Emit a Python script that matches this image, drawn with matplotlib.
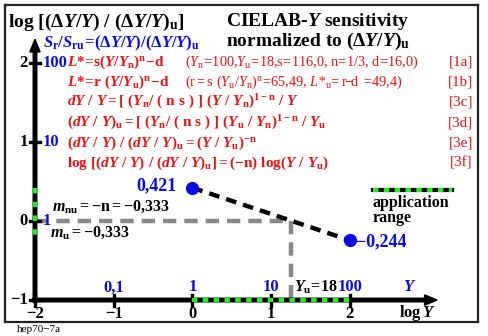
import numpy as np
import matplotlib
matplotlib.use("Agg")
import matplotlib.pyplot as plt

# fonts: bold serif everywhere, mathtext mapped onto Liberation Serif
plt.rcParams['font.family'] = 'Liberation Serif'
plt.rcParams['font.weight'] = 'bold'
plt.rcParams['mathtext.fontset'] = 'custom'
plt.rcParams['mathtext.rm'] = 'Liberation Serif:bold'
plt.rcParams['mathtext.it'] = 'Liberation Serif:italic:bold'
plt.rcParams['mathtext.bf'] = 'Liberation Serif:bold'
plt.rcParams['mathtext.sf'] = 'Liberation Serif:regular'
plt.rcParams['mathtext.tt'] = 'Liberation Serif:italic:regular'

# data
Yu = 18
logY_end = [0, 2]
logS_end = [0.421, -0.244]
end_labels = ['0,421', '\u22120,244']
x_ticks = [-2, -1, 0, 1, 2]
x_tick_labels = ['\u22122', '\u22121', '0', '1', '2']
x_blue_ticks = [-1, 0, 1, 2]
x_blue_labels = ['0,1', '1', '10', '100']
y_ticks = [-1, 0, 1, 2]
y_tick_labels = ['\u22121', '0', '1', '2']
y_blue_ticks = [0, 1, 2]
y_blue_labels = ['1', '10', '100']
app_x = [0, 2]
app_y = [min(logS_end), max(logS_end)]

RED = '#ee1111'
BLUE = '#0a0ae6'
GREEN = '#22ee22'
W, H = 489, 336

fig = plt.figure(figsize=(W / 100, H / 100), dpi=100)
ax = fig.add_axes([5 / W, (H - 322) / H, 473 / W, 317 / H])
ax.set_xlim(-2.381, 3.629)
ax.set_ylim(-1.278, 2.734)
ax.set_xticks([])
ax.set_yticks([])
for s in ax.spines.values():
    s.set_linewidth(1.6)
    s.set_color('#222222')


def at(x, y):
    # pixel position (from top-left) -> figure fraction
    return x / W, 1 - y / H


def ftext(x, y, s, **kw):
    fx, fy = at(x, y)
    kw.setdefault('va', 'center')
    fig.text(fx, fy, s, **kw)


# axes with arrows
ax.arrow(-2.03, -1, 5.14, 0, width=0.045, head_width=0.13, head_length=0.16,
         length_includes_head=True, color='k', zorder=3)
ax.arrow(-2, -1.03, 0, 3.33, width=0.045, head_width=0.13, head_length=0.16,
         length_includes_head=True, color='k', zorder=3)
for x in x_ticks:
    ax.plot([x, x], [-1.07, -0.93], color='k', lw=2.4, zorder=4)
for y in y_ticks:
    ax.plot([-2.065, -1.935], [y, y], color='k', lw=2.4, zorder=4)

# application range on both axes
ax.plot(app_x, [-1, -1], color=GREEN, lw=3, dashes=(1.3, 1.3), zorder=5)
ax.plot([-2, -2], app_y[::-1], color=GREEN, lw=3, dashes=(1.3, 2.0), zorder=5)

# reference lines at Y = Yu
lYu = np.log10(Yu)
ax.plot([-2, lYu], [0, 0], color='#888888', lw=3.2, dashes=(3, 1.8), zorder=2)
ax.plot([lYu, lYu], [0, -1], color='#888888', lw=3.2, dashes=(3, 1.8), zorder=2)

# normalized sensitivity, slope -n
ax.plot(logY_end, logS_end, color='k', lw=3.2, dashes=(2.4, 1.6), zorder=6)
ax.plot(logY_end, logS_end, 'o', color=BLUE, ms=8.5, zorder=7)
ax.text(logY_end[0] - 0.2, logS_end[0] + 0.03, end_labels[0], color=BLUE,
        fontsize=13, ha='right', va='center')
ax.text(logY_end[1] + 0.08, logS_end[1] - 0.02, end_labels[1], color=BLUE,
        fontsize=13, ha='left', va='center')

# tick labels
for x, lab in zip(x_ticks, x_tick_labels):
    ax.text(x, -1.18, lab, fontsize=12, ha='center', va='center')
for x, lab in zip(x_blue_ticks, x_blue_labels):
    ax.text(x, -0.84, lab, fontsize=12, color=BLUE, ha='center', va='center')
for y, lab in zip(y_ticks, y_tick_labels):
    ax.text(-2.09, y, lab, fontsize=12, ha='right', va='center')
for y, lab in zip(y_blue_ticks, y_blue_labels):
    ax.text(-1.9, y, lab, fontsize=12, color=BLUE, ha='left', va='center')
ax.text(lYu + 0.03, -0.84, r'$Y_\mathrm{u}\!=\!18$', fontsize=11.5,
        ha='left', va='center')
ax.text(2.76, -0.84, r'$Y$', fontsize=12, color=BLUE, ha='center', va='center')
ax.text(2.86, -1.17, r'$\mathrm{log}\,Y$', fontsize=12, ha='center', va='center')

# titles
ftext(8, 22, r'$\mathrm{log\ [(}\Delta Y/Y\mathrm{)\ /\ (}\Delta Y/Y\mathrm{)_u]}$',
      fontsize=14)
ftext(226, 21, r'$\mathrm{CIELAB}$' + '\u2010' + r'$Y$' + ' sensitivity', fontsize=14)
ftext(226, 41, r'normalized to $(\Delta Y/Y)_\mathrm{u}$', fontsize=14)
ftext(43, 43, r'$S_\mathrm{r}/S_\mathrm{ru}\!=\!(\Delta Y/Y)/(\Delta Y/Y)_\mathrm{u}$',
      fontsize=12, color=BLUE)

# equations
eq_y = [62, 82, 102, 123, 143, 163]
eqs = [
    r'$L{*}\!=\!\mathrm{s}(Y/Y_\mathrm{n})^\mathrm{n}\!-\!\mathrm{d}$',
    r'$L{*}\!=\!\mathrm{r}\ (Y/Y_\mathrm{u})^\mathrm{n}\!-\!\mathrm{d}$',
    r'$dY\ /\ Y = [\ (Y_\mathrm{n}/\ (\ \mathrm{n\ s}\ )\ ]\ (Y\ /\ Y_\mathrm{n})^{1-\mathrm{n}}\ /\ Y$',
    r'$(dY\ /\ Y)_\mathrm{u} = [\ (Y_\mathrm{n}/\ (\ \mathrm{n\ s}\ )\ ]\ (Y_\mathrm{u}\ /\ Y_\mathrm{n})^{1-\mathrm{n}}\ /\ Y_\mathrm{u}$',
    r'$(dY\ /\ Y)\ /\ (dY\ /\ Y)_\mathrm{u} = (Y\ /\ Y_\mathrm{u})^{-\mathrm{n}}$',
    r'$\mathrm{log}\ [(dY\ /\ Y)\ /\ (dY\ /\ Y)_\mathrm{u}] = (-\mathrm{n})\ \mathrm{log}(Y\ /\ Y_\mathrm{u})$',
]
notes = [
    r'$\mathsf{(}\mathtt{Y}_\mathsf{n}\!\mathsf{=}\!\mathsf{100{,}}\mathtt{Y}_\mathsf{u}\!\mathsf{=}\!\mathsf{18{,}s}\!\mathsf{=}\!\mathsf{116{,}0{,}\ n}\!\mathsf{=}\!\mathsf{1/3{,}\ d}\!\mathsf{=}\!\mathsf{16{,}0)}$',
    r'$\mathsf{(r = s\ (}\mathtt{Y}_\mathsf{u}\mathsf{/}\mathtt{Y}_\mathsf{n}\mathsf{)}^\mathsf{n}\!\mathsf{=}\!\mathsf{65{,}49{,}\ }\mathtt{L{*}}_\mathsf{u}\!\mathsf{=}\mathsf{r}\!{-}\!\mathsf{d}\ \mathsf{=}\!\mathsf{49{,}4)}$',
    None, None, None, None,
]
tags = ['[1a]', '[1b]', '[3c]', '[3d]', '[3e]', '[3f]']
for y, e, nt, tg in zip(eq_y, eqs, notes, tags):
    ftext(67, y, e, fontsize=11, color=RED)
    if nt:
        ftext(185, y, nt, fontsize=10.3, color=RED)
    ftext(473, y, tg, fontsize=11, color=RED, fontweight='normal', ha='right')

# slope annotations
ftext(52, 207, r'$m_\mathrm{nu} = -\mathrm{n} = -0{,}333$', fontsize=11.5)
ftext(50, 233, r'$m_\mathrm{u} = -0{,}333$', fontsize=11.5)

# legend for the application range
lx0, ly0 = at(373, 190)
lx1, _ = at(452, 190)
fig.add_artist(plt.Line2D([lx0, lx1], [ly0, ly0], color='k', lw=3))
fig.add_artist(plt.Line2D([lx0, lx1], [ly0, ly0], color=GREEN, lw=3,
                          dashes=(1.3, 1.3)))
ftext(373, 203, 'application', fontsize=11.5)
ftext(373, 218, 'range', fontsize=11.5)

ftext(17, 330, 'hep70\u22127a', fontsize=8, fontweight='normal')

fig.savefig('out.png', dpi=100)
